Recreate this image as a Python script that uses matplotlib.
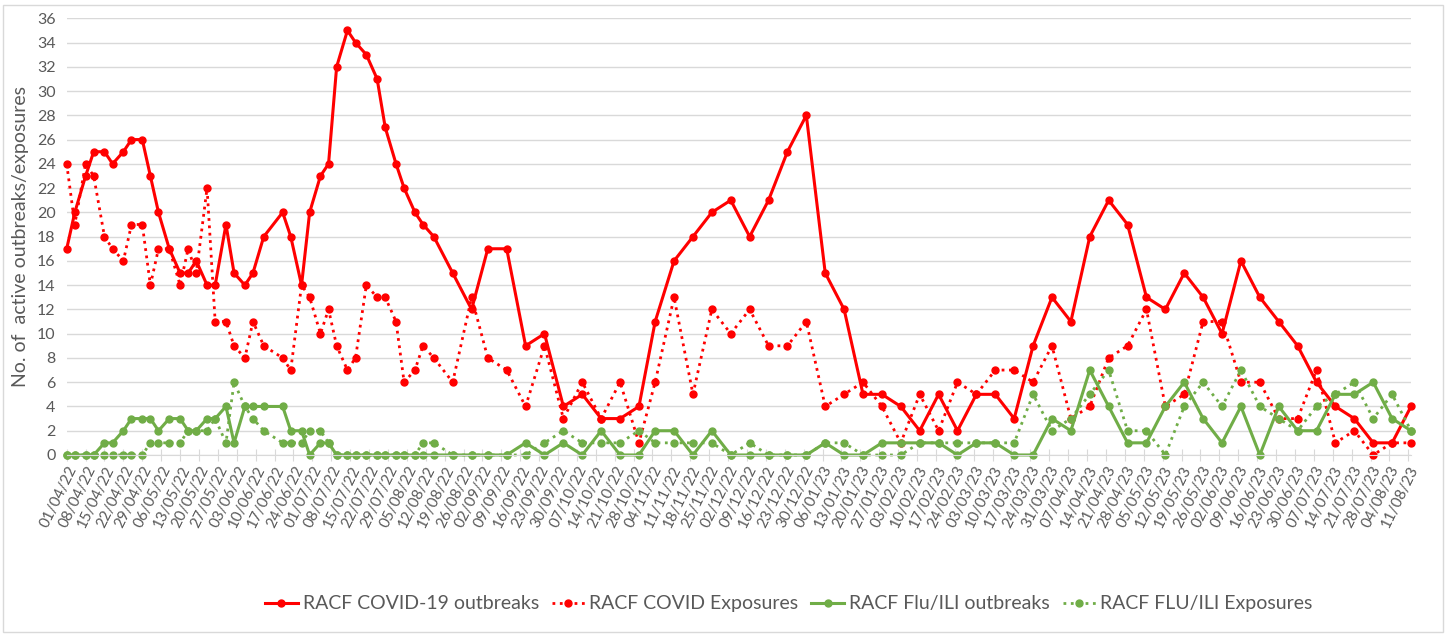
import matplotlib
matplotlib.use("Agg")
import matplotlib.pyplot as plt
from matplotlib.patches import Rectangle
from datetime import date, timedelta

plt.rcParams['font.family'] = ['Lato', 'DejaVu Sans']

start = date(2022, 4, 1)

# report day, counted from 01/04/22 (twice weekly at first, then weekly)
day = [0, 3, 7, 10, 14, 17, 21, 24, 28, 31,
       34, 38, 42, 45, 48, 52, 55, 59, 62, 66,
       69, 73, 80, 83, 87, 90, 94, 97, 100, 104,
       107, 111, 115, 118, 122, 125, 129, 132, 136, 143,
       150, 156, 163, 170, 177, 184, 191, 198, 205, 212,
       218, 225, 232, 239, 246, 253, 260, 267, 274, 281,
       288, 295, 302, 309, 316, 323, 330, 337, 344, 351,
       358, 365, 372, 379, 386, 393, 400, 407, 414, 421,
       428, 435, 442, 449, 456, 463, 470, 477, 484, 491, 498]

covid_outbreaks = [17, 20, 23, 25, 25, 24, 25, 26, 26, 23,
                   20, 17, 15, 15, 16, 14, 14, 19, 15, 14,
                   15, 18, 20, 18, 14, 20, 23, 24, 32, 35,
                   34, 33, 31, 27, 24, 22, 20, 19, 18, 15,
                   12, 17, 17, 9, 10, 4, 5, 3, 3, 4,
                   11, 16, 18, 20, 21, 18, 21, 25, 28, 15,
                   12, 5, 5, 4, 2, 5, 2, 5, 5, 3,
                   9, 13, 11, 18, 21, 19, 13, 12, 15, 13,
                   10, 16, 13, 11, 9, 6, 4, 3, 1, 1, 4]

covid_exposures = [24, 19, 24, 23, 18, 17, 16, 19, 19, 14,
                   17, 17, 14, 17, 15, 22, 11, 11, 9, 8,
                   11, 9, 8, 7, 14, 13, 10, 12, 9, 7,
                   8, 14, 13, 13, 11, 6, 7, 9, 8, 6,
                   13, 8, 7, 4, 9, 3, 6, 3, 6, 1,
                   6, 13, 5, 12, 10, 12, 9, 9, 11, 4,
                   5, 6, 4, 1, 5, 2, 6, 5, 7, 7,
                   6, 9, 3, 4, 8, 9, 12, 4, 5, 11,
                   11, 6, 6, 3, 3, 7, 1, 2, 0, 1, 1]

flu_outbreaks = [0, 0, 0, 0, 1, 1, 2, 3, 3, 3,
                 2, 3, 3, 2, 2, 3, 3, 4, 1, 4,
                 4, 4, 4, 2, 2, 0, 1, 1, 0, 0,
                 0, 0, 0, 0, 0, 0, 0, 0, 0, 0,
                 0, 0, 0, 1, 0, 1, 0, 2, 0, 0,
                 2, 2, 0, 2, 0, 0, 0, 0, 0, 1,
                 0, 0, 1, 1, 1, 1, 0, 1, 1, 0,
                 0, 3, 2, 7, 4, 1, 1, 4, 6, 3,
                 1, 4, 0, 4, 2, 2, 5, 5, 6, 3, 2]

flu_exposures = [0, 0, 0, 0, 0, 0, 0, 0, 0, 1,
                 1, 1, 1, 2, 2, 2, 3, 1, 6, 4,
                 3, 2, 1, 1, 1, 2, 2, 1, 0, 0,
                 0, 0, 0, 0, 0, 0, 0, 1, 1, 0,
                 0, 0, 0, 0, 1, 2, 1, 1, 1, 2,
                 1, 1, 1, 1, 0, 1, 0, 0, 0, 1,
                 1, 0, 0, 0, 1, 1, 1, 1, 1, 1,
                 5, 2, 3, 5, 7, 2, 2, 0, 4, 6,
                 4, 7, 4, 3, 2, 4, 5, 6, 3, 5, 2]

red = '#FF0000'
green = '#70AD47'
grey = '#595959'

fig = plt.figure(figsize=(14.5, 6.35), dpi=100)
fig.patches.append(Rectangle((0.002, 0.004), 0.993, 0.988, transform=fig.transFigure,
                             fill=False, edgecolor='#d9d9d9', lw=1))
ax = fig.add_axes([0.046, 0.2835, 0.9271, 0.6877])

ax.plot(day, covid_outbreaks, color=red, lw=2.2, marker='o', ms=5, clip_on=False,
        label='RACF COVID-19 outbreaks')
ax.plot(day, covid_exposures, color=red, lw=2, ls=':', marker='o', ms=5, clip_on=False,
        label='RACF COVID Exposures')
ax.plot(day, flu_outbreaks, color=green, lw=2.2, marker='o', ms=5, clip_on=False,
        label='RACF Flu/ILI outbreaks')
ax.plot(day, flu_exposures, color=green, lw=2, ls=':', marker='o', ms=5, clip_on=False,
        label='RACF FLU/ILI Exposures')

ax.set_xlim(0, 498)
ax.set_ylim(0, 36)
ax.set_yticks(range(0, 37, 2))
ax.yaxis.grid(True, color='#d9d9d9', lw=1)
ax.set_axisbelow(True)

weeks = list(range(0, 498, 7))
ax.set_xticks(weeks)
ax.set_xticklabels([(start + timedelta(days=w)).strftime('%d/%m/%y') for w in weeks],
                   rotation=64, ha='right', rotation_mode='anchor')

for s in ['top', 'right', 'left']:
    ax.spines[s].set_visible(False)
ax.spines['bottom'].set_color('#d9d9d9')
ax.tick_params(axis='y', length=0, labelsize=11.5, labelcolor=grey, pad=8)
ax.tick_params(axis='x', direction='inout', length=9, color='#d9d9d9',
               labelsize=11, labelcolor=grey, pad=2)

ax.set_ylabel('No. of  active outbreaks/exposures', fontsize=14, color=grey, labelpad=6)

leg = fig.legend(loc='center', bbox_to_anchor=(0.544, 0.049), ncol=4, frameon=False,
                 fontsize=14, handlelength=1.7, handletextpad=0.25, columnspacing=0.65)
for t in leg.get_texts():
    t.set_color(grey)

fig.savefig('out.png', dpi=100)
